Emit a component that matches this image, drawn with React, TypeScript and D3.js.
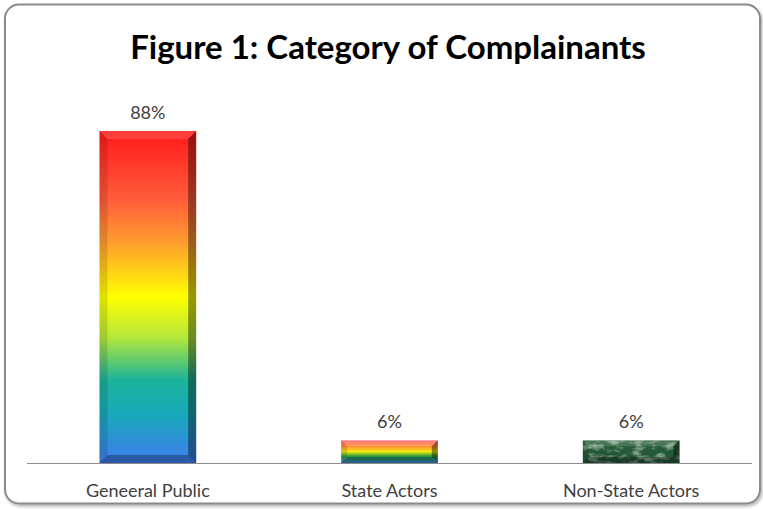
import React from "react";
import * as d3 from "d3";

const categories = ["Geneeral Public", "State Actors", "Non-State Actors"];
const values = [88, 6, 6];
const valueLabels = ["88%", "6%", "6%"];
const title = "Figure 1: Category of Complainants";

const W = 763;
const H = 509;
const FONT = "Lato, 'Open Sans', 'Liberation Sans', sans-serif";

export default function App() {
  const x = d3
    .scaleBand<string>()
    .domain(categories)
    .range([27, 752])
    .paddingInner(0.6)
    .paddingOuter(0.3);
  const y = d3.scaleLinear().domain([0, 100]).range([463, 85.7]);
  const fills = ["url(#rainbowTall)", "url(#rainbowShort)", "url(#greenMarble)"];
  const bev = [8, 6, 6];

  return (
    <div style={{ position: "absolute", left: 0, top: 0 }}>
      <svg width={W} height={H} style={{ display: "block" }}>
        <defs>
          <linearGradient id="rainbowTall" x1="0" y1="0" x2="0" y2="1">
            <stop offset="0" stopColor="#ff1a1a" />
            <stop offset="0.2" stopColor="#ff5a3a" />
            <stop offset="0.33" stopColor="#ff9a30" />
            <stop offset="0.5" stopColor="#ffff00" />
            <stop offset="0.62" stopColor="#b6e83a" />
            <stop offset="0.75" stopColor="#1cb39a" />
            <stop offset="0.85" stopColor="#18aab8" />
            <stop offset="1" stopColor="#3f7cf0" />
          </linearGradient>
          <linearGradient id="rainbowShort" x1="0" y1="0" x2="0" y2="1">
            <stop offset="0" stopColor="#ff5a6a" />
            <stop offset="0.3" stopColor="#ff9a30" />
            <stop offset="0.5" stopColor="#f0ee10" />
            <stop offset="0.7" stopColor="#2a9a3a" />
            <stop offset="1" stopColor="#3a8ae0" />
          </linearGradient>
          <filter id="marble" x="0" y="0" width="1" height="1">
            <feTurbulence type="fractalNoise" baseFrequency="0.09 0.18" numOctaves="3" seed="4" result="noise" />
            <feColorMatrix
              in="noise"
              type="matrix"
              values="0 0 0 0 0.4  0 0 0 0 0.62  0 0 0 0 0.45  0 0 0 1.6 -0.75"
              result="spots"
            />
            <feComposite in="spots" in2="SourceGraphic" operator="in" result="clipped" />
            <feMerge>
              <feMergeNode in="SourceGraphic" />
              <feMergeNode in="clipped" />
            </feMerge>
          </filter>
          <linearGradient id="greenMarble" x1="0" y1="0" x2="0" y2="1">
            <stop offset="0" stopColor="#2a6339" />
            <stop offset="1" stopColor="#1f5233" />
          </linearGradient>
          <filter id="frameShadow" x="-5%" y="-5%" width="110%" height="110%">
            <feDropShadow dx="1.5" dy="2" stdDeviation="1.5" floodColor="#000" floodOpacity="0.3" />
          </filter>
        </defs>

        <rect
          x={5}
          y={4.5}
          width={755}
          height={499}
          rx={14}
          fill="#fff"
          stroke="#8a8a8a"
          strokeWidth={2}
          filter="url(#frameShadow)"
        />

        <text
          x={388}
          y={59}
          textAnchor="middle"
          fontFamily={FONT}
          fontWeight={700}
          fontSize={33}
          fill="#000"
        >
          {title}
        </text>

        {categories.map((c, i) => {
          const x0 = x(c)!;
          const bw = x.bandwidth();
          const y0 = y(values[i]);
          const y1 = y(0);
          const h = y1 - y0;
          const b = Math.min(bev[i], h / 2.5);
          return (
            <g key={c}>
              <rect
                x={x0}
                y={y0}
                width={bw}
                height={h}
                fill={fills[i]}
                filter={i === 2 ? "url(#marble)" : undefined}
              />
              <polygon
                points={`${x0},${y0} ${x0 + bw},${y0} ${x0 + bw - b},${y0 + b} ${x0 + b},${y0 + b}`}
                fill="#fff"
                opacity={0.15}
              />
              <polygon
                points={`${x0},${y0} ${x0 + b},${y0 + b} ${x0 + b},${y1 - b} ${x0},${y1}`}
                fill="#000"
                opacity={0.12}
              />
              <polygon
                points={`${x0 + bw},${y0} ${x0 + bw},${y1} ${x0 + bw - b},${y1 - b} ${x0 + bw - b},${y0 + b}`}
                fill="#000"
                opacity={0.4}
              />
              <polygon
                points={`${x0},${y1} ${x0 + bw},${y1} ${x0 + bw - b},${y1 - b} ${x0 + b},${y1 - b}`}
                fill="#000"
                opacity={0.3}
              />
              <text
                x={x0 + bw / 2}
                y={y0 - 12}
                textAnchor="middle"
                fontFamily={FONT}
                fontSize={18}
                fill="#404040"
              >
                {valueLabels[i]}
              </text>
              <text
                x={x0 + bw / 2}
                y={497}
                textAnchor="middle"
                fontFamily={FONT}
                fontSize={18}
                fill="#404040"
              >
                {c}
              </text>
            </g>
          );
        })}

        <line x1={27} x2={752} y1={463.5} y2={463.5} stroke="#8c8c8c" strokeWidth={1} />
      </svg>
    </div>
  );
}
